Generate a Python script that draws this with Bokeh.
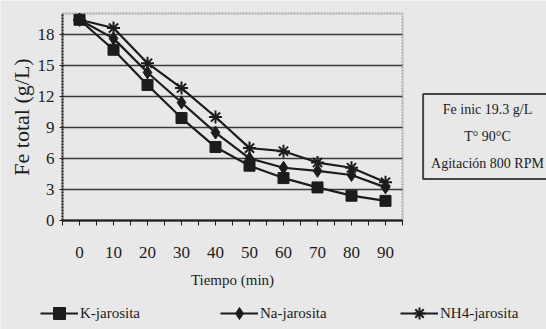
from bokeh.plotting import figure
from bokeh.models import FixedTicker, Legend, LegendItem, Range1d, Label, BoxAnnotation
from bokeh.embed import file_html
from bokeh.resources import INLINE

tiempo = [0, 10, 20, 30, 40, 50, 60, 70, 80, 90]
k_jarosita = [19.4, 16.5, 13.1, 9.9, 7.1, 5.3, 4.1, 3.2, 2.4, 1.9]
na_jarosita = [19.4, 17.6, 14.3, 11.4, 8.5, 6.0, 5.1, 4.8, 4.4, 3.2]
nh4_jarosita = [19.4, 18.6, 15.2, 12.8, 10.0, 7.0, 6.7, 5.6, 5.1, 3.7]
y_ticks = [0, 3, 6, 9, 12, 15, 18]
x_ticks = tiempo
x_minor = [-5, 5, 15, 25, 35, 45, 55, 65, 75, 85, 95]
x_bounds = (-5, 95)
y_bounds = (0, 20)
series_names = ["K-jarosita", "Na-jarosita", "NH4-jarosita"]
info_text = "Fe inic 19.3 g/L\nT° 90°C\nAgitación 800 RPM"

BG = "#e8e8e8"
INK = "#1c1c1c"
FONT = "Liberation Serif"

# the frame fills the whole canvas; axes sit at fixed data locations inside it
p = figure(width=546, height=329, output_backend="svg", toolbar_location=None,
           x_range=Range1d(-23.24, 137.35), y_range=Range1d(-10.53, 21.26),
           min_border=0)
p.background_fill_color = BG
p.border_fill_color = BG
p.outline_line_color = None

p.xaxis.ticker = FixedTicker(ticks=x_ticks, minor_ticks=x_minor)
p.yaxis.ticker = FixedTicker(ticks=y_ticks)
p.xaxis.bounds = x_bounds
p.yaxis.bounds = y_bounds
p.xaxis.fixed_location = y_bounds[0]
p.yaxis.fixed_location = x_bounds[0]
p.xgrid.grid_line_color = None
p.ygrid.grid_line_color = "#3a3a3a"
p.ygrid.grid_line_width = 1.6
p.ygrid.cross_bounds = x_bounds

# dotted border of the data area
p.add_layout(BoxAnnotation(left=x_bounds[0], right=x_bounds[1], bottom=y_bounds[0], top=y_bounds[1],
                           fill_alpha=0, line_color=INK, line_width=2, line_dash="2 1"))

for ax in (p.xaxis, p.yaxis):
    ax.axis_line_color = INK
    ax.axis_line_width = 2
    ax.major_tick_line_color = INK
    ax.minor_tick_line_color = INK
    ax.major_label_text_font = FONT
    ax.major_label_text_color = INK
    ax.axis_label_text_font = FONT
    ax.axis_label_text_font_style = "normal"
    ax.axis_label_text_color = INK

p.yaxis.axis_line_dash = "2 1"
p.yaxis.major_tick_out = 3
p.yaxis.major_tick_in = 0
p.yaxis.minor_tick_line_color = None
p.yaxis.major_label_text_font_size = "17px"
p.yaxis.major_label_standoff = 5
p.yaxis.axis_label = "Fe total (g/L)"
p.yaxis.axis_label_text_font_size = "22px"
p.yaxis.axis_label_standoff = 1

p.xaxis.major_tick_out = 5
p.xaxis.major_tick_in = 0
p.xaxis.minor_tick_out = 5
p.xaxis.minor_tick_in = 0
p.xaxis.major_label_text_font_size = "17px"
p.xaxis.major_label_standoff = 21
p.xaxis.axis_label = "Tiempo (min)"
p.xaxis.axis_label_text_font_size = "15px"
p.xaxis.axis_label_standoff = 11

r_k = p.line(tiempo, k_jarosita, line_color=INK, line_width=2.2)
m_k = p.scatter(tiempo, k_jarosita, marker="square", size=11, fill_color=INK, line_color=INK)
r_na = p.line(tiempo, na_jarosita, line_color=INK, line_width=2.2)
m_na = p.scatter(tiempo, na_jarosita, marker="diamond", size=13, fill_color=INK, line_color=INK)
r_nh = p.line(tiempo, nh4_jarosita, line_color=INK, line_width=2.2)
m_nh = p.scatter(tiempo, nh4_jarosita, marker="asterisk", size=13, line_color=INK, line_width=2)

legend = Legend(items=[LegendItem(label=n, renderers=rs) for n, rs in
                       zip(series_names, [[r_k, m_k], [r_na, m_na], [r_nh, m_nh]])],
                location=(40, 1), orientation="horizontal",
                border_line_color=None, background_fill_alpha=0,
                padding=0, margin=0, spacing=40,
                glyph_width=38, glyph_height=30, label_height=30, label_width=100,
                label_standoff=2, label_text_font=FONT, label_text_font_size="15px",
                label_text_color=INK, label_text_baseline="middle")
p.add_layout(legend)

info = Label(x=487, y=193, x_units="screen", y_units="screen", text=info_text,
             text_font=FONT, text_font_size="14px", text_color=INK,
             text_align="center", text_baseline="middle", text_line_height=1.8,
             border_line_color="#444444", border_line_width=2,
             background_fill_color=BG, padding=8)
p.add_layout(info)

open("out.html", "w").write(file_html(p, INLINE))
